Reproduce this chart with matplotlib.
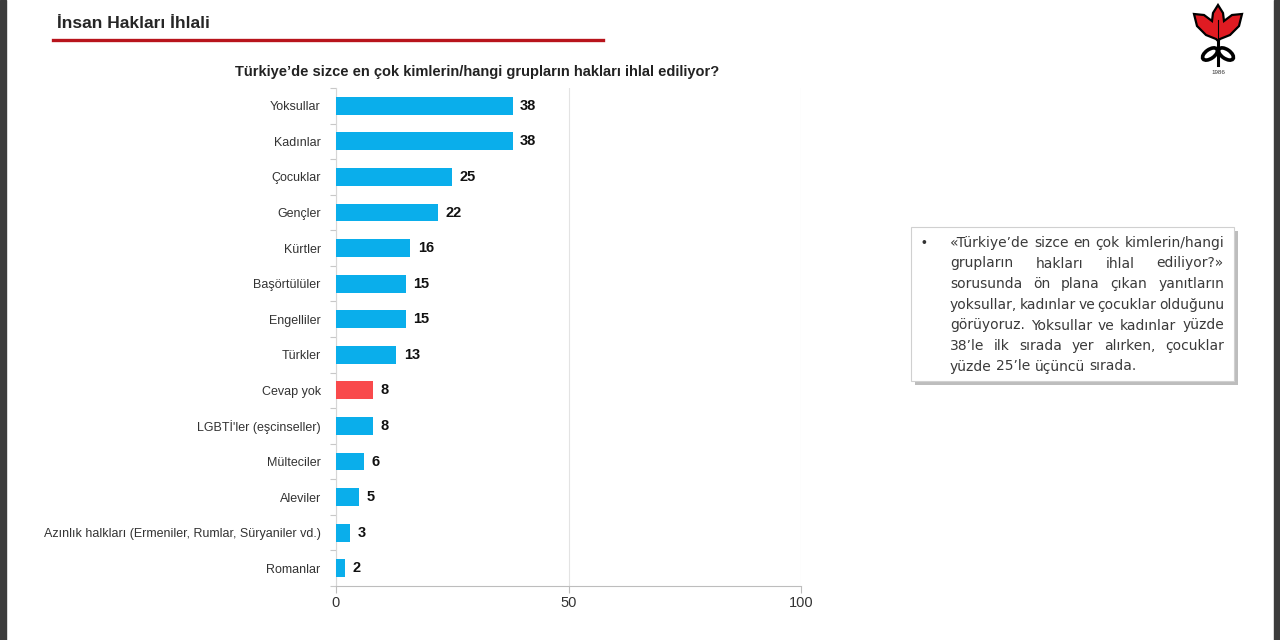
import matplotlib.pyplot as plt
from matplotlib.patches import Rectangle, Polygon, Ellipse
import numpy as np

# data
groups = ["Yoksullar", "Kadınlar", "Çocuklar", "Gençler", "Kürtler", "Başörtülüler",
          "Engelliler", "Türkler", "Cevap yok", "LGBTİ'ler (eşcinseller)", "Mülteciler",
          "Aleviler", "Azınlık halkları (Ermeniler, Rumlar, Süryaniler vd.)", "Romanlar"]
values = [38, 38, 25, 22, 16, 15, 15, 13, 8, 8, 6, 5, 3, 2]
x_ticks = [0, 50, 100]

header = "İnsan Hakları İhlali"
chart_title = "Türkiye\u2019de sizce en çok kimlerin/hangi grupların hakları ihlal ediliyor?"
note_lines = [
    "«Türkiye\u2019de sizce en çok kimlerin/hangi",
    "grupların hakları ihlal ediliyor?»",
    "sorusunda ön plana çıkan yanıtların",
    "yoksullar, kadınlar ve çocuklar olduğunu",
    "görüyoruz. Yoksullar ve kadınlar yüzde",
    "38\u2019le ilk sırada yer alırken, çocuklar",
    "yüzde 25\u2019le üçüncü sırada.",
]

BLUE = "#0AAEEB"
RED = "#F94A4C"
SANS = ["Liberation Sans", "DejaVu Sans"]

W, H = 1280, 640
fig = plt.figure(figsize=(12.8, 6.4), dpi=100)
fig.patch.set_facecolor("white")


def fx(px):
    return px / W


def fy(py):
    return 1 - py / H


# dark frame edges of the screenshot
fig.add_artist(Rectangle((0, 0), fx(6), 1, transform=fig.transFigure, color="#3c3c3c", zorder=0))
fig.add_artist(Rectangle((fx(1274), 0), fx(6), 1, transform=fig.transFigure, color="#3c3c3c", zorder=0))

# header + red rule
fig.text(fx(57), fy(23), header, family=SANS, fontsize=12.5, fontweight="bold",
         color="#262626", va="center", ha="left")
fig.add_artist(plt.Line2D([fx(53), fx(603)], [fy(40), fy(40)], transform=fig.transFigure,
                          color="#B8141C", lw=2.4))

# chart
ax = fig.add_axes([fx(336), fy(586), fx(801 - 336), (586 - 88) / H])
y = np.arange(len(groups))
colors = [RED if g == "Cevap yok" else BLUE for g in groups]
ax.barh(y, values, height=0.5, color=colors, zorder=3)
for yi, v in zip(y, values):
    ax.text(v + 1.6, yi, str(v), va="center", ha="left", fontsize=10.5,
            fontweight="bold", family=SANS, color="#111111")

ax.set_ylim(len(groups) - 0.5, -0.5)
ax.set_xlim(0, 100)
ax.set_xticks(x_ticks)
ax.set_xticklabels([str(t) for t in x_ticks], family=SANS, fontsize=10.5, color="#333333")
ax.set_yticks(y)
ax.set_yticklabels(groups, family=SANS, fontsize=9, color="#333333")
ax.tick_params(axis="y", length=0, pad=11)
ax.set_yticks(np.arange(len(groups) + 1) - 0.5, minor=True)
ax.tick_params(axis="y", which="minor", length=4, color="#c8c8c8", width=0.8)
ax.tick_params(axis="x", length=5, color="#bdbdbd", width=0.8, pad=2)
ax.xaxis.grid(True, color="#e3e3e3", lw=0.8, zorder=0)
for s in ["top", "right"]:
    ax.spines[s].set_visible(False)
ax.spines["left"].set_color("#d6d6d6")
ax.spines["bottom"].set_color("#bdbdbd")
ax.set_facecolor("white")

fig.text(fx(477), fy(72), chart_title, family=SANS, fontsize=10.5, fontweight="bold",
         color="#222222", ha="center", va="center")

# note box with shadow
fig.add_artist(Rectangle((fx(915), fy(385)), fx(323), (385 - 231) / H, transform=fig.transFigure,
                         facecolor="#bdbdbd", edgecolor="none", zorder=1))
fig.add_artist(Rectangle((fx(911), fy(381)), fx(323), (381 - 227) / H, transform=fig.transFigure,
                         facecolor="white", edgecolor="#d0d0d0", lw=0.8, zorder=2))
fig.text(fx(921), fy(243), "•", family=SANS, fontsize=10, color="#333333",
         va="center", ha="left", zorder=3)

renderer = fig.canvas.get_renderer()
left_px, right_px = 950, 1224
line_y = [243, 263.5, 284, 305, 325.5, 346, 366.5]
note_font = ["DejaVu Sans"]
for i, (line, ly) in enumerate(zip(note_lines, line_y)):
    words = line.split(" ")
    texts = [fig.text(0, fy(ly), w, family=note_font, fontsize=10, color="#3a3a3a",
                      va="center", ha="left", zorder=3) for w in words]
    widths = [t.get_window_extent(renderer).width for t in texts]
    if i < len(note_lines) - 1 and len(words) > 1:
        gap = (right_px - left_px - sum(widths)) / (len(words) - 1)
    else:
        gap = renderer.points_to_pixels(10) * 0.32
    xpos = left_px
    for t, w in zip(texts, widths):
        t.set_x(fx(xpos))
        xpos += w + gap

# logo
lg = fig.add_axes([fx(1190), fy(78), fx(56), 76 / H])
lg.set_xlim(0, 56)
lg.set_ylim(76, 0)
lg.axis("off")
flower = [(28, 3), (33, 11), (34, 19), (42, 13), (52, 12), (49, 24), (40, 33), (30, 37),
          (28, 39), (26, 37), (16, 33), (7, 24), (4, 12), (14, 13), (22, 19), (23, 11)]
lg.add_patch(Polygon(flower, closed=True, facecolor="#E01B22", edgecolor="black", lw=1.6))
lg.plot([28, 28], [18, 38], color="black", lw=0.8)
lg.plot([28, 28], [38, 63], color="black", lw=2.2)
lg.add_patch(Ellipse((20, 52), 17, 9, angle=-35, facecolor="none", edgecolor="black", lw=2.6))
lg.add_patch(Ellipse((36, 52), 17, 9, angle=35, facecolor="none", edgecolor="black", lw=2.6))
lg.text(28, 70, "1986", family=SANS, fontsize=4.5, ha="center", va="center", color="#333333")

fig.savefig("out.png", dpi=100, facecolor="white")
